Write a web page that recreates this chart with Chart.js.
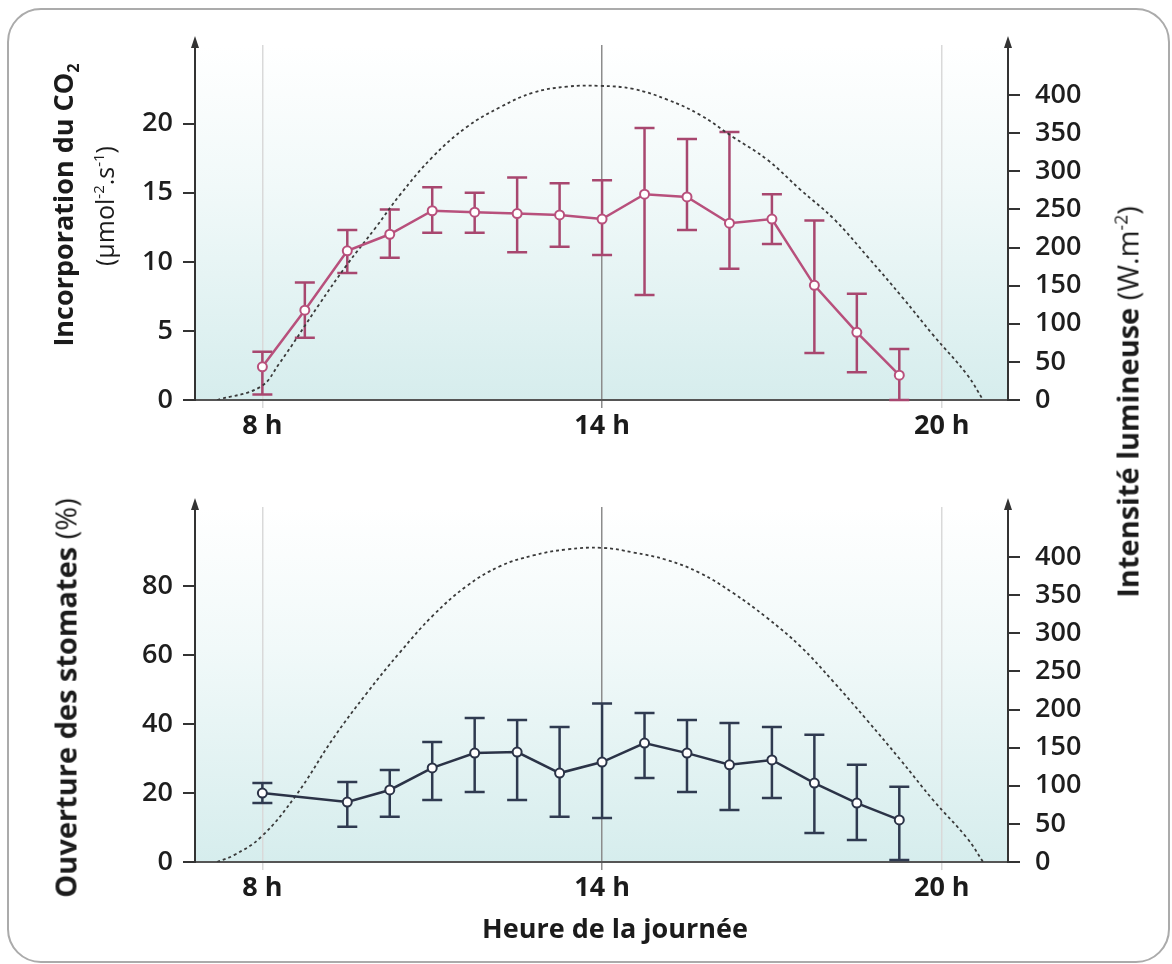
<!DOCTYPE html>
<html lang="fr">
<head>
    <meta charset="UTF-8">
    <title>Incorporation du CO2 et ouverture des stomates</title>
    <script src="https://cdn.jsdelivr.net/npm/chart.js"></script>
    <style>
        html, body { margin: 0; padding: 0; background: #fff; }
        body {
            width: 1172px; height: 964px; position: relative; overflow: hidden;
            font-family: "Open Sans", sans-serif; color: #1b1b1b;
        }
        .cadre {
            position: absolute; left: 7px; top: 8px; width: 1163px; height: 955px;
            box-sizing: border-box; border: 2px solid #ababab; border-radius: 34px;
        }
        canvas { position: absolute; left: 0; }
        #graphCO2 { top: 0; }
        #graphStomates { top: 470px; }
        .titre {
            position: absolute; white-space: nowrap; line-height: 1;
            transform: translate(-50%, -50%) rotate(-90deg);
        }
        .titreX {
            position: absolute; white-space: nowrap; line-height: 1;
            transform: translate(-50%, -50%);
        }
        sub, sup { font-size: 0.6em; line-height: 0; }
    </style>
</head>
<body>
    <div class="cadre"></div>
    <canvas id="graphCO2" width="1172" height="470"></canvas>
    <canvas id="graphStomates" width="1172" height="494"></canvas>

    <div class="titre" style="left:62px; top:205px; font-size:27px; font-weight:700;">Incorporation du CO<sub>2</sub></div>
    <div class="titre" style="left:104px; top:206px; font-size:25px;">(µmol<sup>-2</sup>.s<sup>-1</sup>)</div>
    <div class="titre" style="left:65px; top:698px; font-size:29px;"><b>Ouverture des stomates</b> (%)</div>
    <div class="titre" style="left:1127px; top:402px; font-size:29px;"><b>Intensité lumineuse</b> (W.m<sup>-2</sup>)</div>
    <div class="titreX" style="left:615px; top:927px; font-size:27px; font-weight:700;">Heure de la journée</div>

    <script>
        // heures des mesures
        const heuresCO2 = [8, 8.75, 9.5, 10.25, 11, 11.75, 12.5, 13.25, 14, 14.75, 15.5, 16.25, 17, 17.75, 18.5, 19.25];
        const co2Moyenne = [2.4, 6.5, 10.8, 12.0, 13.7, 13.6, 13.5, 13.4, 13.1, 14.9, 14.7, 12.8, 13.1, 8.3, 4.9, 1.8];
        const co2Min = [0.4, 4.5, 9.2, 10.3, 12.1, 12.1, 10.7, 11.1, 10.5, 7.6, 12.3, 9.5, 11.3, 3.4, 2.0, 0.0];
        const co2Max = [3.5, 8.5, 12.3, 13.8, 15.4, 15.0, 16.1, 15.7, 15.9, 19.7, 18.9, 19.4, 14.9, 13.0, 7.7, 3.7];

        const heuresStomates = [8, 9.5, 10.25, 11, 11.75, 12.5, 13.25, 14, 14.75, 15.5, 16.25, 17, 17.75, 18.5, 19.25];
        const stomatesMoyenne = [20.0, 17.4, 20.9, 27.3, 31.6, 31.9, 25.8, 29.0, 34.5, 31.6, 28.2, 29.6, 22.9, 17.1, 12.2];
        const stomatesMin = [17.1, 10.2, 13.1, 18.0, 20.3, 18.0, 13.1, 12.8, 24.4, 20.3, 15.1, 18.6, 8.4, 6.4, 0.6];
        const stomatesMax = [22.9, 23.2, 26.7, 34.8, 41.8, 41.2, 39.2, 46.0, 43.2, 41.2, 40.3, 39.2, 36.9, 28.2, 21.8];

        // intensité lumineuse (courbe pointillée)
        const heuresLumiere1 = [7.2, 7.96, 8.3, 9.0, 9.5, 10.0, 10.43, 11.01, 11.61, 12.2, 12.78, 13.38, 13.96, 14.55, 15.15, 15.73, 16.31, 16.92, 17.5, 18.1, 18.7, 19.3, 19.85, 20.45, 20.73];
        const lumiere1 = [0, 17, 48, 125, 178, 226, 269, 319, 358, 384, 403, 411, 412, 408, 394, 374, 345, 315, 276, 237, 187, 135, 85, 33, 0];
        const heuresLumiere2 = [7.2, 7.5, 7.98, 8.6, 9.25, 9.85, 10.43, 11.01, 11.61, 12.2, 12.78, 13.38, 14, 14.55, 15.15, 15.73, 16.31, 16.9, 17.5, 18.08, 18.68, 19.27, 19.85, 20.45, 20.73];
        const lumiere2 = [0, 9, 33, 88, 162, 222, 275, 323, 362, 388, 402, 410, 412, 406, 396, 379, 353, 321, 283, 237, 186, 134, 81, 31, 0];

        const heuresTicks = [8, 14, 20];
        const co2Ticks = [0, 5, 10, 15, 20];
        const stomatesTicks = [0, 20, 40, 60, 80];
        const lumiereTicks = [0, 50, 100, 150, 200, 250, 300, 350, 400];

        const police = "'Open Sans', sans-serif";

        const fondDegrade = {
            id: 'fondDegrade',
            beforeDraw(chart) {
                const { ctx, chartArea: a } = chart;
                const g = ctx.createLinearGradient(0, a.top, 0, a.bottom);
                g.addColorStop(0, '#ffffff');
                g.addColorStop(0.4, '#f1f9f9');
                g.addColorStop(1, '#d6eded');
                ctx.save();
                ctx.fillStyle = g;
                ctx.fillRect(a.left, a.top, a.right - a.left, a.bottom - a.top);
                ctx.restore();
            }
        };

        const barresErreur = {
            id: 'barresErreur',
            beforeDatasetsDraw(chart) {
                const ctx = chart.ctx;
                chart.data.datasets.forEach((ds, i) => {
                    if (!ds.erreurMin) return;
                    const meta = chart.getDatasetMeta(i);
                    ctx.save();
                    ctx.strokeStyle = ds.couleurErreur;
                    ctx.lineWidth = 2.5;
                    meta.data.forEach((pt, j) => {
                        const yb = meta.yScale.getPixelForValue(ds.erreurMin[j]);
                        const yh = meta.yScale.getPixelForValue(ds.erreurMax[j]);
                        ctx.beginPath();
                        ctx.moveTo(pt.x, yb); ctx.lineTo(pt.x, yh);
                        ctx.moveTo(pt.x - 10, yb); ctx.lineTo(pt.x + 10, yb);
                        ctx.moveTo(pt.x - 10, yh); ctx.lineTo(pt.x + 10, yh);
                        ctx.stroke();
                    });
                    ctx.restore();
                });
            }
        };

        const fleches = {
            id: 'fleches',
            afterDraw(chart) {
                const { ctx, chartArea: a } = chart;
                ctx.save();
                ctx.fillStyle = '#333';
                [a.left, a.right].forEach(x => {
                    ctx.beginPath();
                    ctx.moveTo(x, a.top - 9);
                    ctx.lineTo(x - 4, a.top + 3);
                    ctx.lineTo(x + 4, a.top + 3);
                    ctx.closePath();
                    ctx.fill();
                });
                ctx.restore();
            }
        };

        function axeY(position, max, valeurs, largeur) {
            return {
                position: position,
                min: 0,
                max: max,
                afterBuildTicks: s => { s.ticks = valeurs.map(v => ({ value: v })); },
                afterFit: s => { s.width = largeur; },
                grid: { drawOnChartArea: false, tickLength: 12, color: '#333', lineWidth: 2 },
                border: { color: '#333', width: 2 },
                ticks: {
                    padding: position === 'left' ? 10 : 15,
                    color: '#1e1e1e',
                    font: { family: police, size: 27, weight: '600' }
                }
            };
        }

        function options(hautPadding, hauteurAxeX, maxGauche, ticksGauche) {
            return {
                responsive: false,
                animation: false,
                layout: { padding: { top: hautPadding, left: 0, right: 0, bottom: 0 } },
                plugins: { legend: { display: false }, tooltip: { enabled: false } },
                scales: {
                    x: {
                        type: 'linear',
                        min: 6.81,
                        max: 21.17,
                        afterBuildTicks: s => { s.ticks = heuresTicks.map(v => ({ value: v })); },
                        afterFit: s => { s.height = hauteurAxeX; },
                        grid: {
                            color: c => (c.tick && c.tick.value === 14) ? '#8c8c8c' : '#d9d9d9',
                            lineWidth: 1.5,
                            tickLength: 8
                        },
                        border: { color: '#555', width: 2 },
                        ticks: {
                            callback: v => v + ' h',
                            padding: 2,
                            maxRotation: 0,
                            autoSkip: false,
                            color: '#1b1b1b',
                            font: { family: police, size: 27, weight: 'bold' }
                        }
                    },
                    y: axeY('left', maxGauche, ticksGauche, 195),
                    yR: axeY('right', 465.6, lumiereTicks, 164)
                }
            };
        }

        function courbeLumiere(heures, valeurs) {
            return {
                data: heures.map((h, i) => ({ x: h, y: valeurs[i] })),
                yAxisID: 'yR',
                borderColor: '#3a3a3a',
                borderWidth: 1.8,
                borderDash: [3, 3],
                pointRadius: 0,
                tension: 0.4,
                order: 2
            };
        }

        new Chart(document.getElementById('graphCO2'), {
            type: 'line',
            data: {
                datasets: [
                    {
                        data: heuresCO2.map((h, i) => ({ x: h, y: co2Moyenne[i] })),
                        yAxisID: 'y',
                        borderColor: '#b8507c',
                        borderWidth: 2.5,
                        pointRadius: 4.5,
                        pointBackgroundColor: '#fff',
                        pointBorderColor: '#b8507c',
                        pointBorderWidth: 2,
                        erreurMin: co2Min,
                        erreurMax: co2Max,
                        couleurErreur: '#a8476f',
                        order: 1
                    },
                    courbeLumiere(heuresLumiere1, lumiere1)
                ]
            },
            options: options(45, 70, 25.7, co2Ticks),
            plugins: [fondDegrade, barresErreur, fleches]
        });

        new Chart(document.getElementById('graphStomates'), {
            type: 'line',
            data: {
                datasets: [
                    {
                        data: heuresStomates.map((h, i) => ({ x: h, y: stomatesMoyenne[i] })),
                        yAxisID: 'y',
                        borderColor: '#2b3347',
                        borderWidth: 2.5,
                        pointRadius: 4.5,
                        pointBackgroundColor: '#fff',
                        pointBorderColor: '#2b3347',
                        pointBorderWidth: 2,
                        erreurMin: stomatesMin,
                        erreurMax: stomatesMax,
                        couleurErreur: '#2f3a50',
                        order: 1
                    },
                    courbeLumiere(heuresLumiere2, lumiere2)
                ]
            },
            options: options(37, 102, 103, stomatesTicks),
            plugins: [fondDegrade, barresErreur, fleches]
        });
    </script>
</body>
</html>
